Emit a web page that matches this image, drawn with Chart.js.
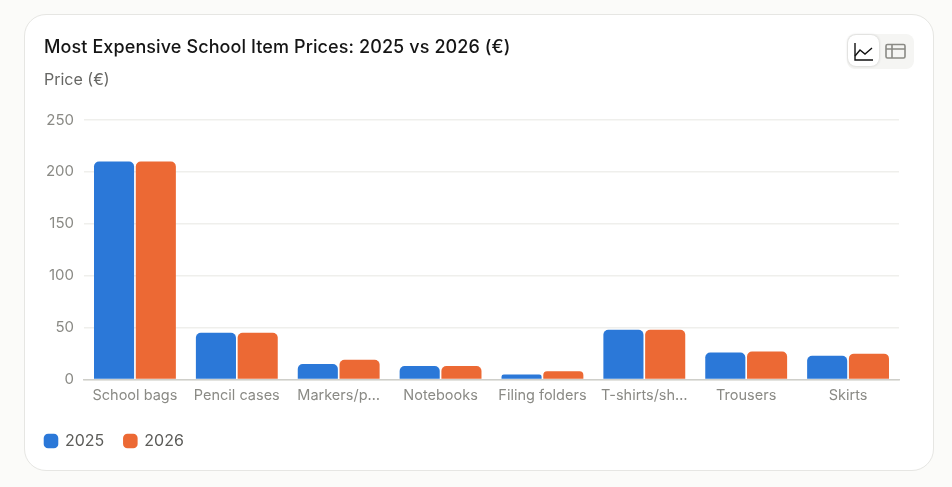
<!DOCTYPE html>
<html>
<head>
<meta charset="utf-8">
<title>Most Expensive School Item Prices</title>
<script src="https://cdn.jsdelivr.net/npm/chart.js@4"></script>
<style>
  html, body { margin: 0; width: 952px; height: 487px; overflow: hidden; background: #fbfbf9; font-family: Inter, sans-serif; }
  .card { position: absolute; left: 24px; top: 14px; width: 908px; height: 455px; background: #fff; border: 1px solid #e6e6e3; border-radius: 22px; }
  #chart { position: absolute; left: 0; top: 0; }
  .title { position: absolute; left: 44px; top: 36px; font-size: 18px; font-weight: 500; letter-spacing: 0.1px; color: #151515; white-space: nowrap; }
  .unit { position: absolute; left: 44px; top: 69px; font-size: 16px; color: #666663; white-space: nowrap; }
  .toggle { position: absolute; left: 847px; top: 34px; width: 67px; height: 35px; background: #f5f5f3; border-radius: 8px; }
  .toggle .on { position: absolute; left: 1px; top: 1px; width: 31px; height: 31px; background: #fff; border-radius: 8px; box-shadow: 0 0 3px rgba(0,0,0,.2); }
  .toggle svg { position: absolute; }
</style>
</head>
<body>
<div class="card"></div>
<canvas id="chart" width="952" height="487"></canvas>
<div class="title">Most Expensive School Item Prices: 2025 vs 2026 (€)</div>
<div class="unit">Price (€)</div>
<div class="toggle">
  <div class="on"></div>
  <svg style="left:7px;top:8px" width="20" height="20" viewBox="0 0 20 20" fill="none" stroke="#111" stroke-width="1.4">
    <path d="M1 1V18H19"/><path d="M1 14L6 8L11 12L18 6"/>
  </svg>
  <svg style="left:38px;top:9px" width="21" height="17" viewBox="0 0 21 17" fill="none" stroke="#8a8a85" stroke-width="1.6">
    <rect x="1" y="1.5" width="19" height="13.5" rx="1.5"/><path d="M1 6H20M7 1.5V15"/>
  </svg>
</div>
<script>
const categories = ['School bags', 'Pencil cases', 'Markers/p…', 'Notebooks', 'Filing folders', 'T-shirts/sh…', 'Trousers', 'Skirts'];
const prices2025 = [210, 45, 15, 13, 5, 48, 26, 23];
const prices2026 = [210, 45, 19, 13, 8, 48, 27, 25];
const yTicks = [0, 50, 100, 150, 200, 250];

Chart.defaults.font.family = 'Inter, sans-serif';
Chart.defaults.animation = false;

// legend always indents by its padding, pull it back to the title's left edge
const legendLeft = {
    id: 'legendLeft',
    afterLayout(chart) { chart.legend.left = 25; }
};

new Chart(document.getElementById('chart'), {
    type: 'bar',
    data: {
        labels: categories,
        datasets: [
            { label: '2025', data: prices2025, backgroundColor: '#2b78d8', borderRadius: 5, borderSkipped: 'bottom' },
            { label: '2026', data: prices2026, backgroundColor: '#ec6934', borderRadius: 5, borderSkipped: 'bottom' }
        ]
    },
    options: {
        responsive: false,
        devicePixelRatio: 1,
        layout: { padding: { top: 120, left: 44, right: 53, bottom: 28 } },
        datasets: { bar: { categoryPercentage: 0.82, barPercentage: 0.96 } },
        plugins: {
            legend: {
                position: 'bottom',
                align: 'start',
                labels: {
                    usePointStyle: true,
                    pointStyle: 'rectRounded',
                    boxWidth: 12,
                    boxHeight: 12,
                    padding: 20,
                    color: '#5c5c59',
                    font: { size: 16 }
                }
            },
            tooltip: { enabled: false }
        },
        scales: {
            x: {
                afterFit: scale => { scale.height += 2; },
                grid: { display: false, drawTicks: false },
                border: { color: '#cfcfca', width: 1.5 },
                ticks: { color: '#8a8a85', font: { size: 14.5 }, padding: 7, maxRotation: 0, autoSkip: false }
            },
            y: {
                min: 0,
                max: 250,
                afterFit: scale => { scale.width = 40; },
                afterBuildTicks: scale => { scale.ticks = yTicks.map(value => ({ value })); },
                grid: { color: '#efefec', lineWidth: 1.5, drawTicks: false },
                border: { display: false },
                ticks: { color: '#8a8a85', font: { size: 15 }, padding: 10 }
            }
        }
    },
    plugins: [legendLeft]
});
</script>
</body>
</html>
